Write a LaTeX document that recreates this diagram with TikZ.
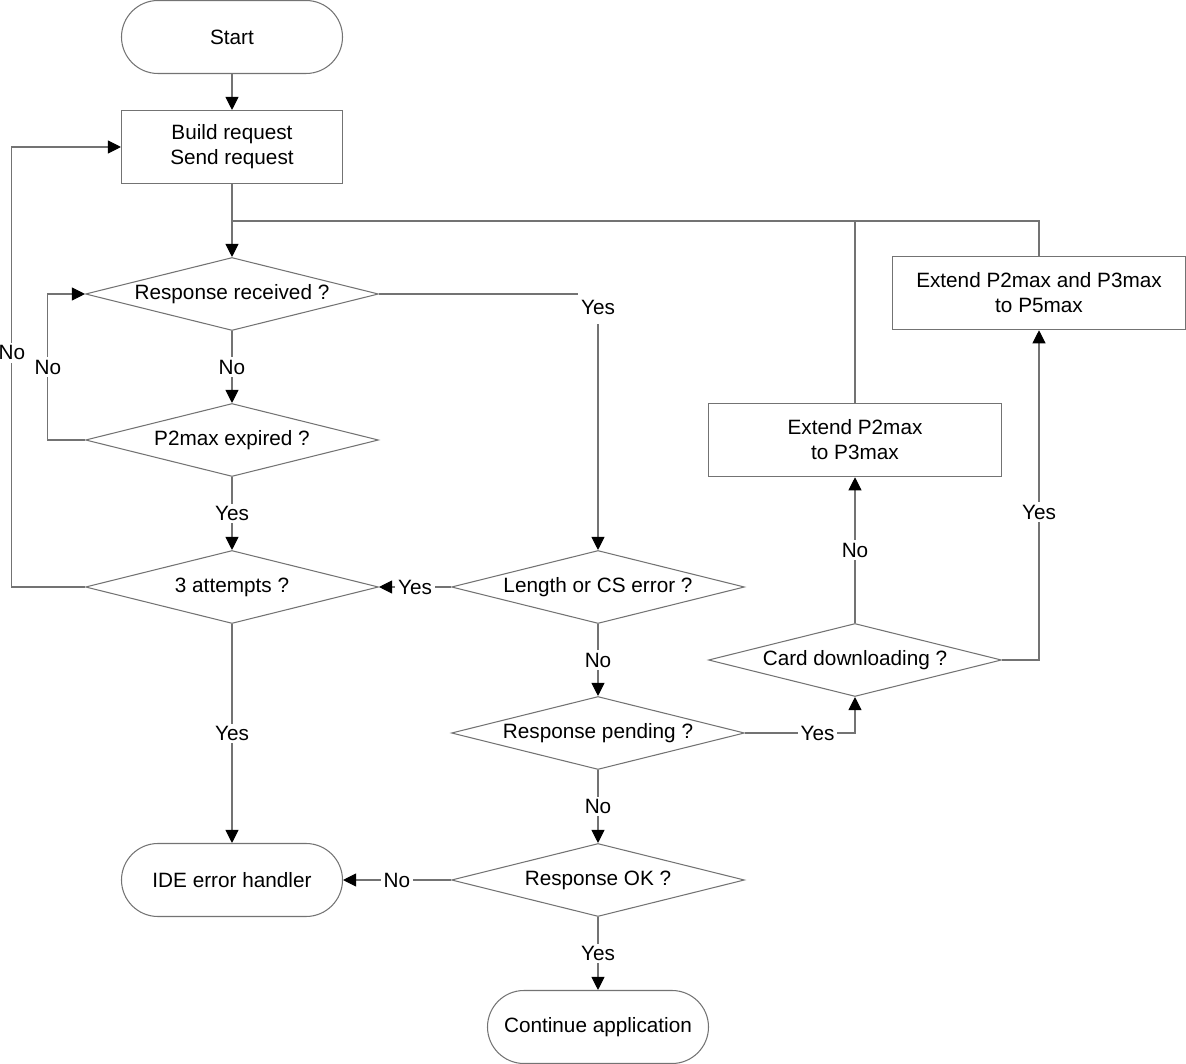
\documentclass[tikz,border=0pt]{standalone}
\usepackage{fontspec}
\setmainfont{Liberation Sans}
\usetikzlibrary{shapes.geometric,arrows.meta}

\begin{document}
\begin{tikzpicture}[
x=0.2mm, y=-0.2mm,
font=\fontsize{11.8}{14.2}\selectfont,
>={Triangle[length=7.5pt,width=7.5pt,color=black]},
line/.style={draw=black!55,line width=0.6pt},
arrow/.style={line,->},
term/.style={rectangle,rounded corners=7.3mm,draw=black!55,line width=0.6pt,minimum width=44.2mm,minimum height=14.6mm,align=center},
proc/.style={rectangle,draw=black!55,line width=0.6pt,minimum width=44.2mm,minimum height=14.6mm,align=center},
proc2/.style={proc,minimum width=58.7mm,minimum height=14.7mm},
test/.style={diamond,aspect=4,draw=black!55,line width=0.6pt,inner sep=0pt,minimum width=58.6mm,minimum height=14.6mm},
lbl/.style={fill=white,inner sep=1.5pt}
]
\useasboundingbox (0,0) rectangle (1186,1064);

\node[term] (start) at (232,37) {Start};
\node[proc] (build) at (232,147) {Build request\\Send request};
\node[test] (recv) at (232,294) {Response received ?};
\node[test] (p2) at (232,440) {P2max expired ?};
\node[test] (att) at (232,587) {3 attempts ?};
\node[term] (ide) at (232,880) {IDE error handler};
\node[test] (len) at (598,587) {Length or CS error ?};
\node[test] (pend) at (598,733) {Response pending ?};
\node[test] (ok) at (598,880) {Response OK ?};
\node[term] (cont) at (598,1027) {Continue application};
\node[test] (card) at (855,660) {Card downloading ?};
\node[proc2] (ext1) at (855,440) {Extend P2max\\to P3max};
\node[proc2] (ext2) at (1039,293) {Extend P2max and P3max\\to P5max};

\coordinate (j) at (232,221);

\path[arrow] (start) -- (build);
\path[line] (build) -- (j);
\path[arrow] (j) -- (recv);
\path[line] (j) -| (ext1);
\path[line] (j) -| (ext2);

\path[arrow] (recv.east) -| node[lbl,pos=0.527,inner ysep=5pt]{Yes} (len.north);
\path[arrow] (recv) -- node[lbl]{No} (p2);
\path[arrow] (p2.west) -- ++(-37,0) |- node[lbl,pos=0.25]{No} (recv.west);
\path[arrow] (p2) -- node[lbl]{Yes} (att);
\path[arrow] (att.west) -- ++(-73,0) |- node[lbl,pos=0.266]{No} (build.west);
\path[arrow] (att) -- node[lbl]{Yes} (ide);

\path[arrow] (len) -- node[lbl]{Yes} (att);
\path[arrow] (len) -- node[lbl]{No} (pend);
\path[arrow] (pend) -- node[lbl]{No} (ok);
\path[arrow] (ok) -- node[lbl]{No} (ide);
\path[arrow] (ok) -- node[lbl]{Yes} (cont);

\path[arrow] (pend.east) -| node[lbl,pos=0.33]{Yes} (card.south);
\path[arrow] (card) -- node[lbl]{No} (ext1);
\path[arrow] (card.east) -| node[lbl,pos=0.724]{Yes} (ext2.south);

\end{tikzpicture}
\end{document}
